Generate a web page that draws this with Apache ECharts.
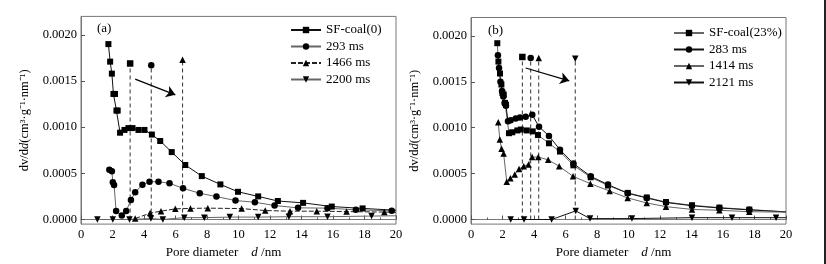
<!DOCTYPE html>
<html>
<head>
<meta charset="utf-8">
<script src="https://cdn.jsdelivr.net/npm/echarts@6/dist/echarts.min.js"></script>
<style>
  html, body { margin: 0; padding: 0; background: #fff; }
  #main { width: 826px; height: 264px; }
</style>
</head>
<body>
<div id="main"></div>
<script>
// panel (a): SF-coal(0) and its irradiation times
var sfA_d = [1.74, 1.85, 1.96, 2.06, 2.16, 2.25, 2.33, 2.48, 2.76, 3.01, 3.27, 3.65, 4.03, 4.5, 5.03, 5.76, 6.62, 7.67, 8.85, 9.97, 11.25, 12.5, 14.1, 15.92, 17.88, 20];
var sfA_v = [0.00190, 0.00171, 0.00158, 0.00136, 0.00136, 0.00118, 0.00118, 0.00094, 0.00097, 0.00099, 0.00099, 0.00097, 0.00097, 0.00092, 0.00085, 0.00073, 0.00059, 0.00047, 0.00038, 0.00030, 0.00025, 0.00020, 0.00018, 0.00014, 0.00012, 0.00010];
var ms293_d = [1.80, 1.96, 2.02, 2.10, 2.23, 2.59, 2.87, 3.17, 3.44, 3.90, 4.35, 4.92, 5.62, 6.48, 7.54, 8.6, 9.81, 11.04, 12.29, 13.78, 15.65, 17.45, 19.73];
var ms293_v = [0.000539, 0.000522, 0.000403, 0.000374, 0.000091, 0.000043, 0.000091, 0.000212, 0.000295, 0.000377, 0.000409, 0.000409, 0.000392, 0.000338, 0.000284, 0.000248, 0.000205, 0.000187, 0.000151, 0.000126, 0.000123, 0.000105, 0.000094];
var ms1466_d = [3.44, 4.39, 5.08, 5.99, 6.95, 8.05, 10.2, 11.7, 13.27, 14.97, 16.86, 19.26, 20];
var ms1466_v = [0.00001, 0.000069, 0.00009, 0.000115, 0.00012, 0.000123, 0.000118, 0.000097, 0.00009, 0.00009, 0.000086, 0.00008, 0.000078];
var ms2200_d = [1.04, 2.02, 3.08, 4.44, 5.2, 6.56, 7.83, 9.45, 11.25, 13.2, 15.65, 18.45, 20];
var ms2200_v = [0, 0, 0, 0.00001, 0, 0.00002, 0.00002, 0.000026, 0.000026, 0.00003, 0.00003, 0.000037, 0.00004];
var guideA_d = [3.12, 4.46, 6.45];
var guideA_v = [0.00169, 0.00167, 0.00173];
var arrowA = [[3.44, 0.00152], [5.99, 0.00135]];

// panel (b): SF-coal(23%)
var sfB_d = [1.67, 1.74, 1.84, 1.93, 1.99, 2.08, 2.16, 2.22, 2.41, 2.62, 2.94, 3.16, 3.54, 3.92, 4.25, 4.95, 5.65, 6.5, 7.6, 8.7, 9.95, 11.16, 12.38, 14.03, 15.77, 17.67, 20];
var sfB_v = [0.00192, 0.00172, 0.00159, 0.00147, 0.00138, 0.00136, 0.00127, 0.00125, 0.00094, 0.00095, 0.00097, 0.00098, 0.00097, 0.00096, 0.00092, 0.00083, 0.00074, 0.00059, 0.00046, 0.00037, 0.00029, 0.00024, 0.00019, 0.000155, 0.00013, 0.000108, 0.000083];
var ms283_d = [1.71, 1.78, 1.87, 1.97, 2.05, 2.13, 2.22, 2.35, 2.52, 2.84, 3.11, 3.47, 3.89, 4.32, 4.95, 5.65, 6.5, 7.6, 8.7, 9.95, 11.16, 12.38, 14.03, 15.77, 17.67, 20];
var ms283_v = [0.00179, 0.00165, 0.00150, 0.00140, 0.00134, 0.00127, 0.00124, 0.00107, 0.00108, 0.00110, 0.00111, 0.00112, 0.00114, 0.00101, 0.00091, 0.00076, 0.00061, 0.00047, 0.00038, 0.000285, 0.000235, 0.000185, 0.00015, 0.000125, 0.000105, 0.000083];
var ms1414_d = [1.73, 1.83, 1.94, 2.07, 2.27, 2.5, 2.78, 3.05, 3.35, 3.65, 3.88, 4.27, 4.9, 5.6, 6.48, 7.58, 8.8, 9.95, 11.16, 12.38, 14.03, 15.77, 17.67, 20];
var ms1414_v = [0.00106, 0.00087, 0.00077, 0.00072, 0.00041, 0.00045, 0.00049, 0.00055, 0.00058, 0.00060, 0.00068, 0.00068, 0.00065, 0.00058, 0.00047, 0.00039, 0.00031, 0.000235, 0.00018, 0.00014, 0.00011, 0.0001, 0.000085, 0.00008];
var ms2121_d = [2.52, 3.37, 5.12, 6.65, 7.56, 10.22, 14.03, 16.57, 19.37, 20];
var ms2121_v = [0, 0, 0, 0.000094, 0.00001, 0.00001, 0.00002, 0.00002, 0.00002, 0.00002];
var guideB_d = [3.26, 3.79, 4.3, 6.62];
var guideB_v = [0.00177, 0.00176, 0.00176, 0.00175];
var arrowB = [[3.47, 0.00165], [6.24, 0.00151]];

var yTicks = [0, 0.0005, 0.001, 0.0015, 0.002];

var serif = 'Liberation Serif';
var chart = echarts.init(document.getElementById('main'));

// points at the right border carry the line to the frame, without a marker
function pts(ds, vs) {
  return ds.map(function (d, i) {
    return d >= 20 ? { value: [d, vs[i]], symbol: 'none' } : [d, vs[i]];
  });
}

function curve(name, ds, vs, gi, sym, color, dashed) {
  var down = sym === 'down';
  return {
    name: name,
    type: 'line',
    xAxisIndex: gi,
    yAxisIndex: gi,
    data: pts(ds, vs),
    symbol: down ? 'triangle' : sym,
    symbolRotate: down ? 180 : 0,
    symbolSize: sym === 'rect' ? 6 : 6.5,
    lineStyle: { color: color, width: 1, type: dashed ? [5, 2] : 'solid' },
    itemStyle: { color: '#000' },
    z: 3
  };
}

var symsA = ['rect', 'circle', 'triangle'];
var symsB = ['rect', 'circle', 'triangle', 'down'];

function guides(ds, vs, gi, syms) {
  return ds.map(function (d, i) {
    var down = syms[i] === 'down';
    return {
      type: 'line',
      xAxisIndex: gi,
      yAxisIndex: gi,
      data: [{ value: [d, 0], symbol: 'none' }, [d, vs[i]]],
      symbol: down ? 'triangle' : syms[i],
      symbolRotate: down ? 180 : 0,
      symbolSize: 6.5,
      lineStyle: { color: '#333', width: 1, type: [4, 3] },
      itemStyle: { color: '#000' },
      z: 2
    };
  });
}

function arrow(a, gi) {
  return {
    type: 'line',
    xAxisIndex: gi,
    yAxisIndex: gi,
    data: [],
    markLine: {
      silent: true,
      symbol: ['none', 'arrow'],
      symbolSize: 9,
      label: { show: false },
      lineStyle: { color: '#000', width: 1.2, type: 'solid' },
      itemStyle: { color: '#000' },
      data: [[{ coord: a[0] }, { coord: a[1] }]]
    }
  };
}

function xAx(gi) {
  return {
    type: 'value', gridIndex: gi, min: 0, max: 20, interval: 2,
    name: 'Pore diameter    {i|d} /nm',
    nameLocation: 'middle', nameGap: 17,
    nameTextStyle: {
      fontFamily: serif, fontSize: 13, color: '#000', padding: [0, 30, 0, 0],
      rich: { i: { fontFamily: serif, fontSize: 13, fontStyle: 'italic', color: '#000' } }
    },
    axisLine: { lineStyle: { color: '#777' } },
    axisTick: { inside: true, length: 4, lineStyle: { color: '#555' } },
    minorTick: { show: true, splitNumber: 2, length: 2, lineStyle: { color: '#555' } },
    axisLabel: { fontFamily: serif, fontSize: 12.5, color: '#000', margin: 4 },
    splitLine: { show: false }
  };
}

function yAx(gi) {
  return {
    type: 'value', gridIndex: gi, min: -0.00005, max: 0.0022,
    name: 'dv/d{i|d}(cm³·g⁻¹·nm⁻¹)',
    nameLocation: 'middle', nameGap: 50, nameRotate: 90,
    nameTextStyle: {
      fontFamily: serif, fontSize: 12.5, color: '#000',
      rich: { i: { fontFamily: serif, fontSize: 12.5, fontStyle: 'italic', color: '#000' } }
    },
    axisLine: { show: true, lineStyle: { color: '#777' } },
    axisTick: { show: true, inside: true, length: 4, customValues: yTicks, lineStyle: { color: '#555' } },
    axisLabel: {
      fontFamily: serif, fontSize: 12.5, color: '#000', margin: 4,
      customValues: yTicks,
      formatter: function (v) { return v.toFixed(4); }
    },
    splitLine: { show: false }
  };
}

function legend(names, left, top) {
  return {
    data: names, orient: 'vertical', left: left, top: top, padding: 0,
    itemWidth: 30, itemHeight: 8, itemGap: 3.5,
    textStyle: { fontFamily: serif, fontSize: 13, color: '#000' }
  };
}

var option = {
  animation: false,
  backgroundColor: '#fff',
  grid: [
    { left: 81, top: 16.4, width: 315, height: 209, show: true, borderColor: '#777', borderWidth: 1 },
    { left: 471, top: 17.5, width: 315, height: 208, show: true, borderColor: '#777', borderWidth: 1 }
  ],
  xAxis: [xAx(0), xAx(1)],
  yAxis: [yAx(0), yAx(1)],
  legend: [
    legend(['SF-coal(0)', '293 ms', '1466 ms', '2200 ms'], 290, 23.5),
    legend(['SF-coal(23%)', '283 ms', '1414 ms', '2121 ms'], 673, 26.5)
  ],
  graphic: [
    { type: 'text', left: 97, top: 22, style: { text: '(a)', font: '13px "Liberation Serif"', fill: '#000' } },
    { type: 'text', left: 488, top: 24, style: { text: '(b)', font: '13px "Liberation Serif"', fill: '#000' } },
    { type: 'rect', left: 824, top: 0, shape: { width: 2, height: 264 }, style: { fill: '#222' } }
  ],
  series: [
    curve('SF-coal(0)', sfA_d, sfA_v, 0, 'rect', '#111', false),
    curve('293 ms', ms293_d, ms293_v, 0, 'circle', '#666', false),
    curve('1466 ms', ms1466_d, ms1466_v, 0, 'triangle', '#222', true),
    curve('2200 ms', ms2200_d, ms2200_v, 0, 'down', '#666', false),
    curve('SF-coal(23%)', sfB_d, sfB_v, 1, 'rect', '#666', false),
    curve('283 ms', ms283_d, ms283_v, 1, 'circle', '#111', false),
    curve('1414 ms', ms1414_d, ms1414_v, 1, 'triangle', '#666', false),
    curve('2121 ms', ms2121_d, ms2121_v, 1, 'down', '#111', false),
    arrow(arrowA, 0),
    arrow(arrowB, 1)
  ].concat(guides(guideA_d, guideA_v, 0, symsA), guides(guideB_d, guideB_v, 1, symsB))
};

chart.setOption(option);
</script>
</body>
</html>
